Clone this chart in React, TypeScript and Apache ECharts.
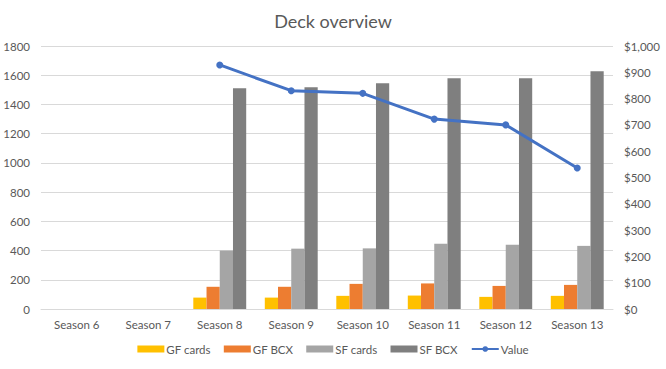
import React, { useEffect, useRef } from "react";
import * as echarts from "echarts";

const categories = ["Season 6", "Season 7", "Season 8", "Season 9", "Season 10", "Season 11", "Season 12", "Season 13"];
const gfCards = [null, null, 78, 78, 90, 92, 83, 90];
const gfBcx = [null, null, 152, 152, 172, 175, 158, 165];
const sfCards = [null, null, 400, 413, 415, 447, 440, 432];
const sfBcx = [null, null, 1510, 1518, 1545, 1580, 1580, 1628];
const value = [null, null, 928, 830, 820, 722, 700, 536];
const leftTicks = [0, 1800, 200];
const rightTicks = [0, 1000, 100];

const FONT = "Lato, 'Open Sans', sans-serif";
const TXT = "#595959";

export default function App() {
  const ref = useRef<HTMLDivElement>(null);
  useEffect(() => {
    const chart = echarts.init(ref.current!, null, { renderer: "svg" });
    const barSeries = (name: string, data: any[], color: string) => ({
      name,
      type: "bar",
      data,
      itemStyle: { color },
      barGap: "0%",
      barCategoryGap: "26%",
      yAxisIndex: 0,
    });
    chart.setOption({
      animation: false,
      textStyle: { fontFamily: FONT },
      title: {
        text: "Deck overview",
        left: "center",
        top: 7,
        textStyle: { fontFamily: FONT, fontSize: 18, fontWeight: "normal", color: TXT },
      },
      grid: { left: 41, right: 53, top: 46, bottom: 60 },
      legend: {
        bottom: 9,
        left: "center",
        itemGap: 13,
        itemWidth: 27,
        itemHeight: 7,
        textStyle: { fontFamily: FONT, fontSize: 11.5, color: TXT, padding: [0, 0, 0, -3] },
        data: [
          { name: "GF cards", icon: "rect" },
          { name: "GF BCX", icon: "rect" },
          { name: "SF cards", icon: "rect" },
          { name: "SF BCX", icon: "rect" },
          { name: "Value" },
        ],
      },
      xAxis: {
        type: "category",
        data: categories,
        axisLine: { lineStyle: { color: "#d9d9d9" } },
        axisTick: { show: false },
        axisLabel: { color: TXT, fontSize: 11.5, fontFamily: FONT, margin: 9, interval: 0 },
      },
      yAxis: [
        {
          type: "value",
          min: leftTicks[0],
          max: leftTicks[1],
          interval: leftTicks[2],
          axisLine: { show: false },
          axisTick: { show: false },
          splitLine: { lineStyle: { color: "#d9d9d9" } },
          axisLabel: { color: TXT, fontSize: 11.5, fontFamily: FONT, margin: 11, formatter: (v: number) => String(v) },
        },
        {
          type: "value",
          min: rightTicks[0],
          max: rightTicks[1],
          interval: rightTicks[2],
          axisLine: { show: false },
          axisTick: { show: false },
          splitLine: { show: false },
          axisLabel: {
            color: TXT,
            fontSize: 11.5,
            fontFamily: FONT,
            margin: 11,
            formatter: (v: number) => "$" + v.toLocaleString("en-US"),
          },
        },
      ],
      series: [
        barSeries("GF cards", gfCards, "#ffc000"),
        barSeries("GF BCX", gfBcx, "#ed7d31"),
        barSeries("SF cards", sfCards, "#a5a5a5"),
        barSeries("SF BCX", sfBcx, "#7f7f7f"),
        {
          name: "Value",
          type: "line",
          yAxisIndex: 1,
          data: value,
          symbol: "circle",
          symbolSize: 7,
          lineStyle: { color: "#4472c4", width: 3 },
          itemStyle: { color: "#4472c4" },
          z: 5,
        },
      ],
    });
    return () => chart.dispose();
  }, []);
  return <div ref={ref} style={{ width: 666, height: 369, position: "absolute", left: 0, top: 0 }} />;
}
